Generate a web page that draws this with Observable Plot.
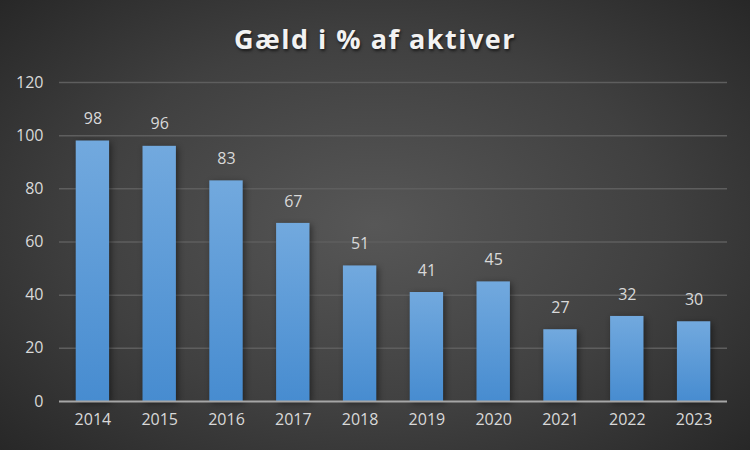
<!DOCTYPE html>
<html>
<head>
<meta charset="utf-8">
<script src="https://cdn.jsdelivr.net/npm/d3@7"></script>
<script src="https://cdn.jsdelivr.net/npm/@observablehq/plot@0.6"></script>
<style>
  html, body { margin: 0; padding: 0; }
  #wrap {
    position: relative; width: 750px; height: 450px; overflow: hidden;
    background: radial-gradient(ellipse 70% 75% at 50% 50%, #575757 0%, #404040 55%, #262626 100%);
    font-family: "Open Sans", "Liberation Sans", sans-serif;
  }
  #title {
    height: 70px; line-height: 78px; text-align: center; color: #f2f2f2;
    font-size: 27px; font-weight: 700; letter-spacing: 1.5px;
    text-shadow: 1px 2px 3px rgba(0,0,0,0.6);
  }
  #chart svg { display: block; background: transparent; }
  .bars rect { filter: drop-shadow(2px 2px 3px rgba(0,0,0,0.45)); }
</style>
</head>
<body>
<div id="wrap">
  <div id="title">Gæld i % af aktiver</div>
  <div id="chart"></div>
</div>
<script>
const years = ["2014","2015","2016","2017","2018","2019","2020","2021","2022","2023"];
const values = [98, 96, 83, 67, 51, 41, 45, 27, 32, 30];
const yTicks = [0, 20, 40, 60, 80, 100, 120];

const data = years.map((y, i) => ({year: y, value: values[i]}));

const plot = Plot.plot({
  width: 750,
  height: 380,
  marginTop: 12,
  marginBottom: 49,
  marginLeft: 59,
  marginRight: 23,
  style: {background: "transparent", color: "#d9d9d9", fontFamily: "'Open Sans', 'Liberation Sans', sans-serif", fontSize: "15px"},
  x: {domain: years, paddingInner: 0.5, paddingOuter: 0.25, round: false, label: null, tickSize: 0, tickPadding: 12},
  y: {domain: [0, 120], ticks: yTicks, label: null, tickSize: 0, tickPadding: 16},
  marks: [
    () => {
      const svg = d3.create("svg:defs");
      const g = svg.append("linearGradient").attr("id", "barGrad").attr("x1", 0).attr("y1", 0).attr("x2", 0).attr("y2", 1);
      g.append("stop").attr("offset", "0%").attr("stop-color", "#72a9de");
      g.append("stop").attr("offset", "100%").attr("stop-color", "#478cd0");
      return svg.node();
    },
    Plot.ruleY(yTicks.filter(d => d > 0), {stroke: "#5e5e5e", strokeWidth: 1.5}),
    Plot.barY(data, {x: "year", y: "value", fill: "url(#barGrad)", className: "bars"}),
    Plot.ruleY([0], {stroke: "#a6a6a6", strokeWidth: 2}),
    Plot.text(data, {x: "year", y: "value", text: d => String(d.value), dy: -22, fill: "#d9d9d9", fontSize: 16}),
    Plot.axisX({tickSize: 0, tickPadding: 12, fontSize: 16, fill: "#d9d9d9"}),
    Plot.axisY({ticks: yTicks, tickSize: 0, tickPadding: 16, fontSize: 16, fill: "#d9d9d9"})
  ]
});
document.getElementById("chart").appendChild(plot);
</script>
</body>
</html>
